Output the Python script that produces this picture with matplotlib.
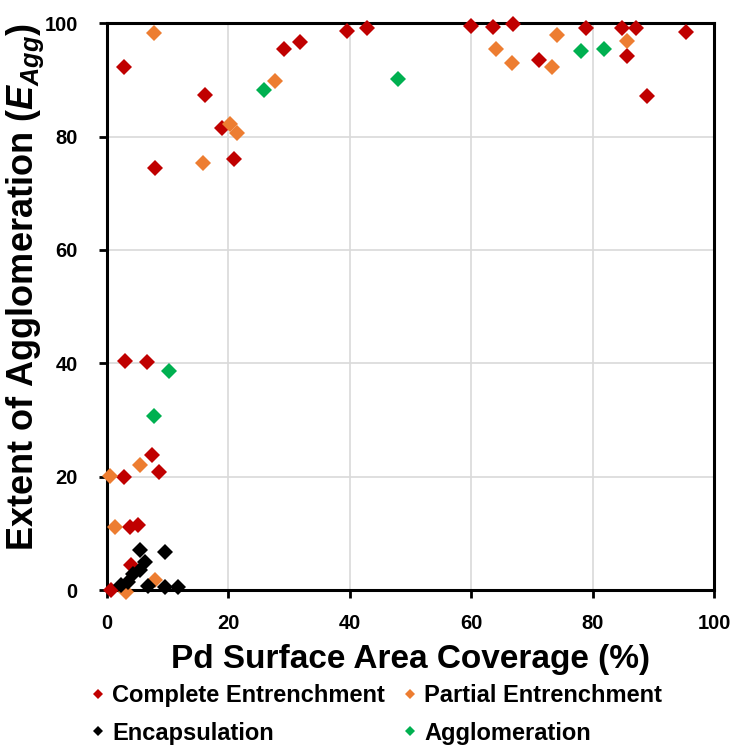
import numpy as np
import matplotlib.pyplot as plt
from matplotlib.lines import Line2D

plt.rcParams['font.family'] = ['Liberation Sans', 'DejaVu Sans']
plt.rcParams['font.weight'] = 'bold'
plt.rcParams['mathtext.fontset'] = 'custom'
plt.rcParams['mathtext.it'] = 'Liberation Sans:italic:bold'
plt.rcParams['mathtext.rm'] = 'Liberation Sans:bold'

# Complete Entrenchment
red_x = [2.9, 8.0, 16.1, 19.0, 20.9, 29.2, 31.8, 39.5, 42.8, 60.0, 63.6, 66.8,
         78.9, 84.8, 87.1, 95.3, 71.1, 85.7, 88.9, 3.0, 6.6, 7.5, 8.6, 2.8,
         3.8, 5.2, 4.0, 0.7]
red_y = [92.2, 74.5, 87.4, 81.6, 76.0, 95.5, 96.6, 98.6, 99.2, 99.5, 99.3, 99.8,
         99.1, 99.2, 99.1, 98.5, 93.5, 94.3, 87.1, 40.5, 40.3, 23.8, 20.9, 20.0,
         11.2, 11.5, 4.5, 0.0]

# Partial Entrenchment
orange_x = [7.7, 27.7, 20.3, 21.4, 15.8, 74.1, 64.1, 66.7, 73.3, 85.7,
            0.5, 5.4, 1.3, 3.2, 7.9]
orange_y = [98.3, 89.8, 82.3, 80.7, 75.4, 97.9, 95.5, 93.0, 92.2, 96.9,
            20.1, 22.0, 11.1, -0.3, 1.8]

# Encapsulation
black_x = [5.5, 9.6, 6.3, 5.4, 4.3, 3.5, 2.3, 6.8, 9.6, 11.7]
black_y = [7.1, 6.8, 5.0, 3.5, 2.9, 1.5, 1.0, 0.7, 0.6, 0.6]

# Agglomeration
green_x = [10.2, 7.8, 25.8, 48.0, 78.0, 81.8]
green_y = [38.6, 30.7, 88.3, 90.2, 95.1, 95.5]

series = [
    ('Complete Entrenchment', red_x, red_y, '#C00000'),
    ('Partial Entrenchment', orange_x, orange_y, '#ED7D31'),
    ('Encapsulation', black_x, black_y, '#000000'),
    ('Agglomeration', green_x, green_y, '#00B050'),
]

fig = plt.figure(figsize=(7.37, 7.48), dpi=100)
ax = fig.add_axes([0.145, 0.211, 0.824, 0.758])

for i, (name, xs, ys, c) in enumerate(series):
    ax.plot(xs, ys, linestyle='none', marker='D', markersize=8,
            color=c, markeredgewidth=0, clip_on=False, zorder=3 + i, label=name)

ax.set_xlim(0, 100)
ax.set_ylim(0, 100)
ax.set_xticks(np.arange(0, 101, 20))
ax.set_yticks(np.arange(0, 101, 20))
ax.grid(True, color='#D9D9D9', linewidth=1.2)
ax.set_axisbelow(True)
for s in ax.spines.values():
    s.set_linewidth(2.2)
    s.set_color('black')
ax.tick_params(direction='out', length=6, width=2, labelsize=14.5)
ax.tick_params(axis='x', pad=11)
ax.tick_params(axis='y', pad=15)
for lab in ax.get_xticklabels() + ax.get_yticklabels():
    lab.set_fontweight('bold')

ax.set_xlabel('Pd Surface Area Coverage (%)', fontsize=24, fontweight='bold', labelpad=8)
ax.set_ylabel(r'Extent of Agglomeration ($\mathit{E}_{\mathit{Agg}}$)',
              fontsize=26, fontweight='bold')
ax.yaxis.set_label_coords(-0.1, 0.535)

handles = [Line2D([], [], linestyle='none', marker='D', markersize=5.5,
                  color=c, markeredgewidth=0) for _, _, _, c in series]
labels = [n for n, _, _, _ in series]
order = [0, 2, 1, 3]
fig.legend([handles[k] for k in order], [labels[k] for k in order],
           loc='upper left', bbox_to_anchor=(0.125, 0.085), ncol=2, frameon=False,
           prop={'size': 17, 'weight': 'bold'}, handlelength=0.5,
           handletextpad=0.35, columnspacing=0.8, labelspacing=0.6,
           borderaxespad=0, borderpad=0)

fig.savefig('out.png', dpi=100)
